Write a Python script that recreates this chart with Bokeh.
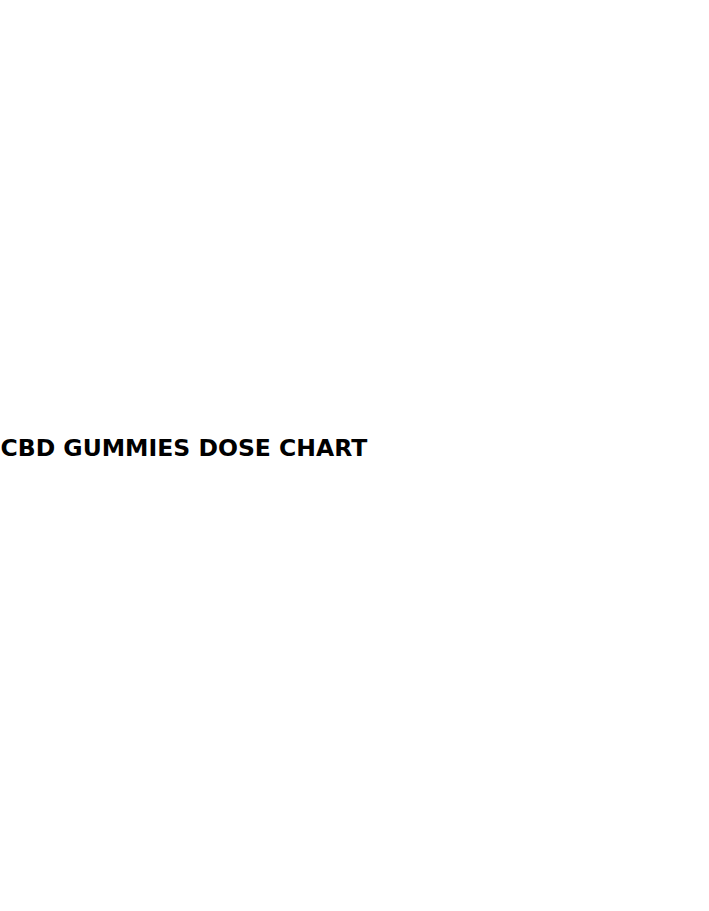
from bokeh.plotting import figure
from bokeh.models import ColumnDataSource, Range1d
from bokeh.core.properties import value
from bokeh.embed import file_html
from bokeh.resources import INLINE

# the picture holds only a caption line, the chart itself is blank white
captions = ["CBD GUMMIES DOSE CHART"]
caption_x = [0]
caption_y = [448]

W, H = 693, 895

p = figure(width=W, height=H, output_backend="svg", toolbar_location=None,
           tools="", x_range=Range1d(0, W), y_range=Range1d(0, H),
           min_border=0)
p.axis.visible = False
p.grid.visible = False
p.outline_line_color = None
p.background_fill_color = "white"
p.border_fill_color = "white"

source = ColumnDataSource(data=dict(x=caption_x, y=caption_y, text=captions))
p.text(x="x", y="y", text="text", source=source,
       text_font=value("DejaVu Sans"), text_font_style="bold",
       text_font_size="23.5px", text_color="black",
       text_baseline="middle", text_align="left")

open("out.html", "w").write(file_html(p, INLINE))
